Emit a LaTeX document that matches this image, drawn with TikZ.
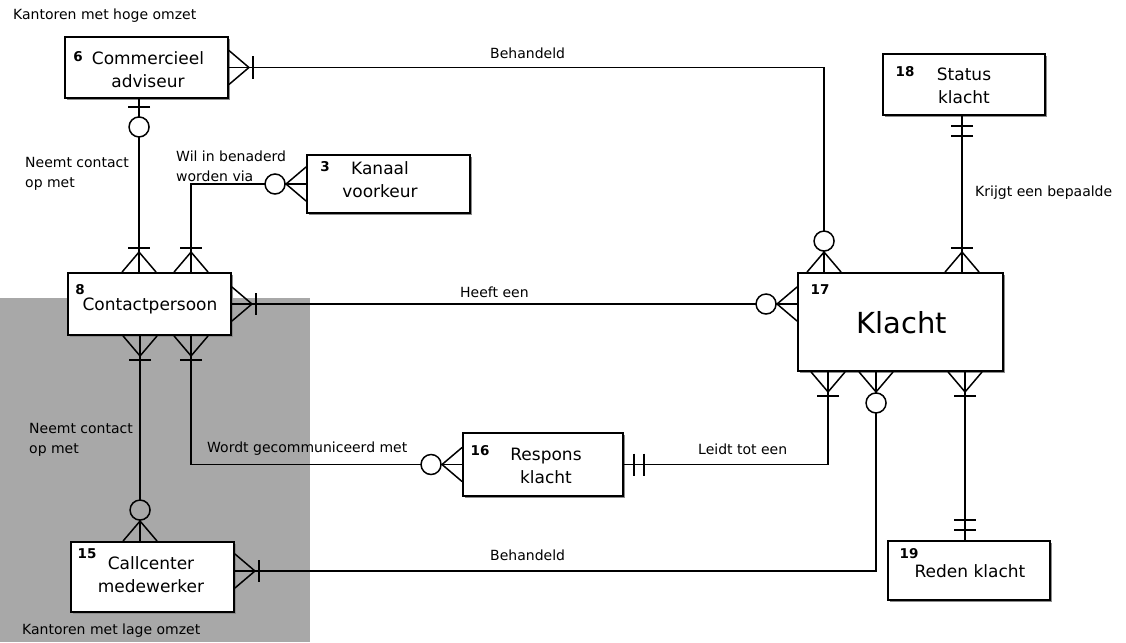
\documentclass[tikz,border=0pt]{standalone}
\usepackage{fontspec}
\setmainfont{DejaVu Sans}
\usetikzlibrary{calc,shadows}
\definecolor{bggray}{gray}{0.66}
\begin{document}
\begin{tikzpicture}[x=1pt,y=-1pt,
  ent/.style={draw, line width=1.9pt, fill=white, inner sep=0pt,
    drop shadow={shadow xshift=2pt, shadow yshift=-2pt, fill=black!45, opacity=1}},
  conn/.style={line width=1.5pt, black},
  circfill/.style={fill=white},
  num/.style={inner sep=0pt, font=\bfseries\fontsize{13.5}{15}\selectfont},
  nm/.style={inner sep=0pt, align=center, font=\fontsize{17}{23}\selectfont},
  lbl/.style={inner sep=0pt, anchor=west, align=left, font=\fontsize{14}{20}\selectfont},
  onemany/.pic={\draw[conn] (0,-17) -- (20,0) -- (0,17); \draw[conn] (24,-11) -- (24,11);},
  zeromany/.pic={\draw[conn] (0,-17) -- (20,0) -- (0,17); \draw[conn,circfill] (31,0) circle[radius=10];},
  zeroone/.pic={\draw[conn] (8,-11) -- (8,11); \draw[conn,circfill] (28,0) circle[radius=10];},
  oneone/.pic={\draw[conn] (10,-11) -- (10,11) (20,-11) -- (20,11);}
]
\useasboundingbox (0,0) rectangle (1126,642);
\fill[bggray] (0,298) rectangle (310,642);

% entities
\node[ent, minimum width=163pt, minimum height=61pt] (ca) at (146.5,67.5) {};
\node[ent, minimum width=163pt, minimum height=58pt] (kv) at (388.5,184) {};
\node[ent, minimum width=163pt, minimum height=62pt] (cp) at (149.5,304) {};
\node[ent, minimum width=163pt, minimum height=70pt] (cc) at (152.5,577) {};
\node[ent, minimum width=160pt, minimum height=63pt] (rk) at (543,464.5) {};
\node[ent, minimum width=205pt, minimum height=98pt] (kl) at (900.5,322) {};
\node[ent, minimum width=162pt, minimum height=61pt] (st) at (964,84.5) {};
\node[ent, minimum width=162pt, minimum height=59pt] (rd) at (969,570.5) {};

% entity texts
\node[num] (ca-n) at (78,57) {6};
\node[nm] (ca-t) at (148,70) {Commercieel\\adviseur};
\node[num] (kv-n) at (325,167) {3};
\node[nm] (kv-t) at (380,180) {Kanaal\\voorkeur};
\node[num] (cp-n) at (80,290) {8};
\node[nm] (cp-t) at (150,306) {Contactpersoon};
\node[num] (cc-n) at (87,554) {15};
\node[nm] (cc-t) at (151,575) {Callcenter\\medewerker};
\node[num] (rk-n) at (480,451) {16};
\node[nm] (rk-t) at (546,466) {Respons\\klacht};
\node[num] (kl-n) at (820,290) {17};
\node[inner sep=0pt, font=\fontsize{29}{34}\selectfont] (kl-t) at (902,323) {Klacht};
\node[num] (st-n) at (905,72) {18};
\node[nm] (st-t) at (964,86) {Status\\klacht};
\node[num] (rd-n) at (909,554) {19};
\node[nm] (rd-t) at (970,571) {Reden klacht};

% connectors
\coordinate (a1) at (ca.east);
\coordinate (b1) at ($(kl.north west)+(27,0)$);
\draw[conn] (a1) -- (a1 -| b1) -- (b1);

\coordinate (a2) at ($(ca.south west)+(75,0)$);
\coordinate (b2) at (a2 |- cp.north);
\draw[conn] (a2) -- (b2);

\coordinate (a3) at ($(cp.north west)+(124,0)$);
\draw[conn] (a3) -- (a3 |- kv.west) -- (kv.west);

\coordinate (b4) at (cp.east -| kl.west);
\draw[conn] (cp.east) -- (b4);

\coordinate (a5) at ($(cp.south west)+(73,0)$);
\coordinate (b5) at (a5 |- cc.north);
\draw[conn] (a5) -- (b5);

\coordinate (a6) at ($(cp.south west)+(124,0)$);
\draw[conn] (a6) -- (a6 |- rk.west) -- (rk.west);

\coordinate (b7) at ($(kl.south west)+(31,0)$);
\draw[conn] (rk.east) -- (rk.east -| b7) -- (b7);

\coordinate (a8) at ($(kl.south west)+(79,0)$);
\coordinate (b8) at ($(cc.east)+(0,-6)$);
\draw[conn] (a8) -- (a8 |- b8) -- (b8);

\coordinate (a9) at ($(kl.north west)+(165,0)$);
\coordinate (b9) at (a9 |- st.south);
\draw[conn] (a9) -- (b9);

\coordinate (a10) at ($(kl.south west)+(168,0)$);
\coordinate (b10) at (a10 |- rd.north);
\draw[conn] (a10) -- (b10);

% cardinality marks
\pic at (a1) {onemany};
\pic[rotate=90] at (b1) {zeromany};
\pic[rotate=-90] at (a2) {zeroone};
\pic[rotate=90] at (b2) {onemany};
\pic[rotate=90] at (a3) {onemany};
\pic[rotate=180] at (kv.west) {zeromany};
\pic at (cp.east) {onemany};
\pic[rotate=180] at (b4) {zeromany};
\pic[rotate=-90] at (a5) {onemany};
\pic[rotate=90, circfill/.style={fill=bggray}] at (b5) {zeromany};
\pic[rotate=-90] at (a6) {onemany};
\pic[rotate=180] at (rk.west) {zeromany};
\pic at (rk.east) {oneone};
\pic[rotate=-90] at (b7) {onemany};
\pic[rotate=-90] at (a8) {zeromany};
\pic at (b8) {onemany};
\pic[rotate=90] at (a9) {onemany};
\pic[rotate=-90] at (b9) {oneone};
\pic[rotate=-90] at (a10) {onemany};
\pic[rotate=90] at (b10) {oneone};

% labels
\node[lbl] (l-hoog) at (13,16) {Kantoren met hoge omzet};
\node[lbl] (l-beh1) at (490,53) {Behandeld};
\node[lbl] (l-neem1) at (25,174) {Neemt contact\\op met};
\node[lbl] (l-wil) at (176,166) {Wil in benaderd\\worden via};
\node[lbl] (l-heeft) at (460,292) {Heeft een};
\node[lbl] (l-krijgt) at (975,193) {Krijgt een bepaalde};
\node[lbl] (l-neem2) at (29,440) {Neemt contact\\op met};
\node[lbl] (l-wordt) at (207,449) {Wordt gecommuniceerd met};
\node[lbl] (l-leidt) at (698,449) {Leidt tot een};
\node[lbl] (l-beh2) at (490,555) {Behandeld};
\node[lbl] (l-laag) at (22,631) {Kantoren met lage omzet};
\end{tikzpicture}
\end{document}
